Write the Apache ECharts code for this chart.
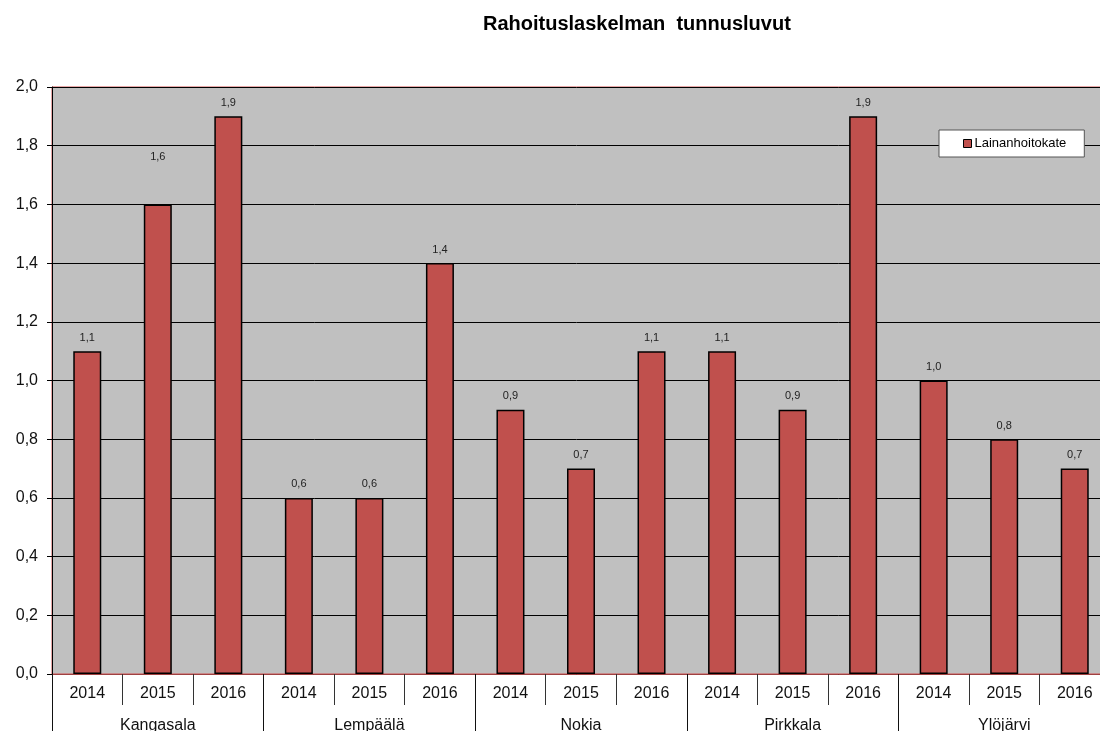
<!DOCTYPE html>
<html>
<head>
<meta charset="utf-8">
<script src="https://cdn.jsdelivr.net/npm/echarts@6/dist/echarts.min.js"></script>
<style>
  html, body { margin: 0; padding: 0; background: #fff; }
  #main { width: 1100px; height: 731px; }
</style>
</head>
<body>
<div id="main"></div>
<script>
// data
const towns = ['Kangasala', 'Lempäälä', 'Nokia', 'Pirkkala', 'Ylöjärvi'];
const years = ['2014', '2015', '2016'];
const lainanhoitokate = [1.1, 1.6, 1.9, 0.6, 0.6, 1.4, 0.9, 0.7, 1.1, 1.1, 0.9, 1.9, 1.0, 0.8, 0.7];
const yTicks = { min: 0, max: 2, interval: 0.2 };

const FONT = '"Liberation Sans", Arial, sans-serif';
const fmt = v => v.toFixed(1).replace('.', ',');

// one year label per bar
let yearCats = [];
towns.forEach(() => { yearCats = yearCats.concat(years); });

let chart = echarts.init(document.getElementById('main'));

chart.setOption({
  animation: false,
  textStyle: { fontFamily: FONT },
  title: {
    text: 'Rahoituslaskelman  tunnusluvut',
    left: 478,
    top: 9,
    textStyle: { fontSize: 20, fontWeight: 'bold', color: '#000', fontFamily: FONT }
  },
  legend: {
    data: ['Lainanhoitokate'],
    left: 939,
    top: 130,
    padding: [7, 18, 7, 24],
    backgroundColor: '#fff',
    borderColor: '#555',
    borderWidth: 1,
    itemWidth: 8,
    itemHeight: 8,
    icon: 'rect',
    itemStyle: { borderColor: '#000', borderWidth: 1 },
    textStyle: { fontSize: 13, color: '#000', fontFamily: FONT, padding: [0, 0, 0, -2] }
  },
  grid: {
    left: 52,
    top: 87,
    bottom: 57,
    right: -10,
    outerBoundsMode: 'none',
    containLabel: false,
    show: true,
    backgroundColor: '#C0C0C0',
    borderColor: '#D05050',
    borderWidth: 1
  },
  xAxis: [
    {
      type: 'category',
      data: yearCats,
      position: 'bottom',
      axisLine: { lineStyle: { color: '#A04040', width: 1 } },
      axisTick: { show: true, length: 31, lineStyle: { color: '#333' } },
      axisLabel: { fontSize: 16, color: '#111', margin: 12, interval: 0, fontFamily: FONT }
    },
    {
      type: 'category',
      data: towns,
      position: 'bottom',
      axisLine: { show: false },
      axisTick: { show: true, length: 58, lineStyle: { color: '#111' } },
      axisLabel: { fontSize: 16, color: '#111', margin: 44, interval: 0, fontFamily: FONT }
    }
  ],
  yAxis: {
    type: 'value',
    min: yTicks.min,
    max: yTicks.max,
    interval: yTicks.interval,
    axisLine: { show: true, lineStyle: { color: '#000' } },
    axisTick: { show: true, length: 5, lineStyle: { color: '#000' } },
    axisLabel: { fontSize: 16, color: '#111', margin: 14, formatter: v => fmt(v), fontFamily: FONT },
    splitLine: { show: true, lineStyle: { color: '#000', width: 1 } }
  },
  series: [{
    name: 'Lainanhoitokate',
    type: 'bar',
    xAxisIndex: 0,
    barWidth: 28,
    data: lainanhoitokate.map((v, i) => {
      // the 1,6 label sits higher in the original
      if (i === 1) return { value: v, label: { offset: [0, -34] } };
      return v;
    }),
    itemStyle: { color: '#C0504D', borderColor: '#000', borderWidth: 1.5 },
    label: {
      show: true,
      position: 'top',
      distance: 8,
      fontSize: 11,
      color: '#222',
      fontFamily: FONT,
      formatter: p => fmt(p.value)
    }
  }]
});
</script>
</body>
</html>
